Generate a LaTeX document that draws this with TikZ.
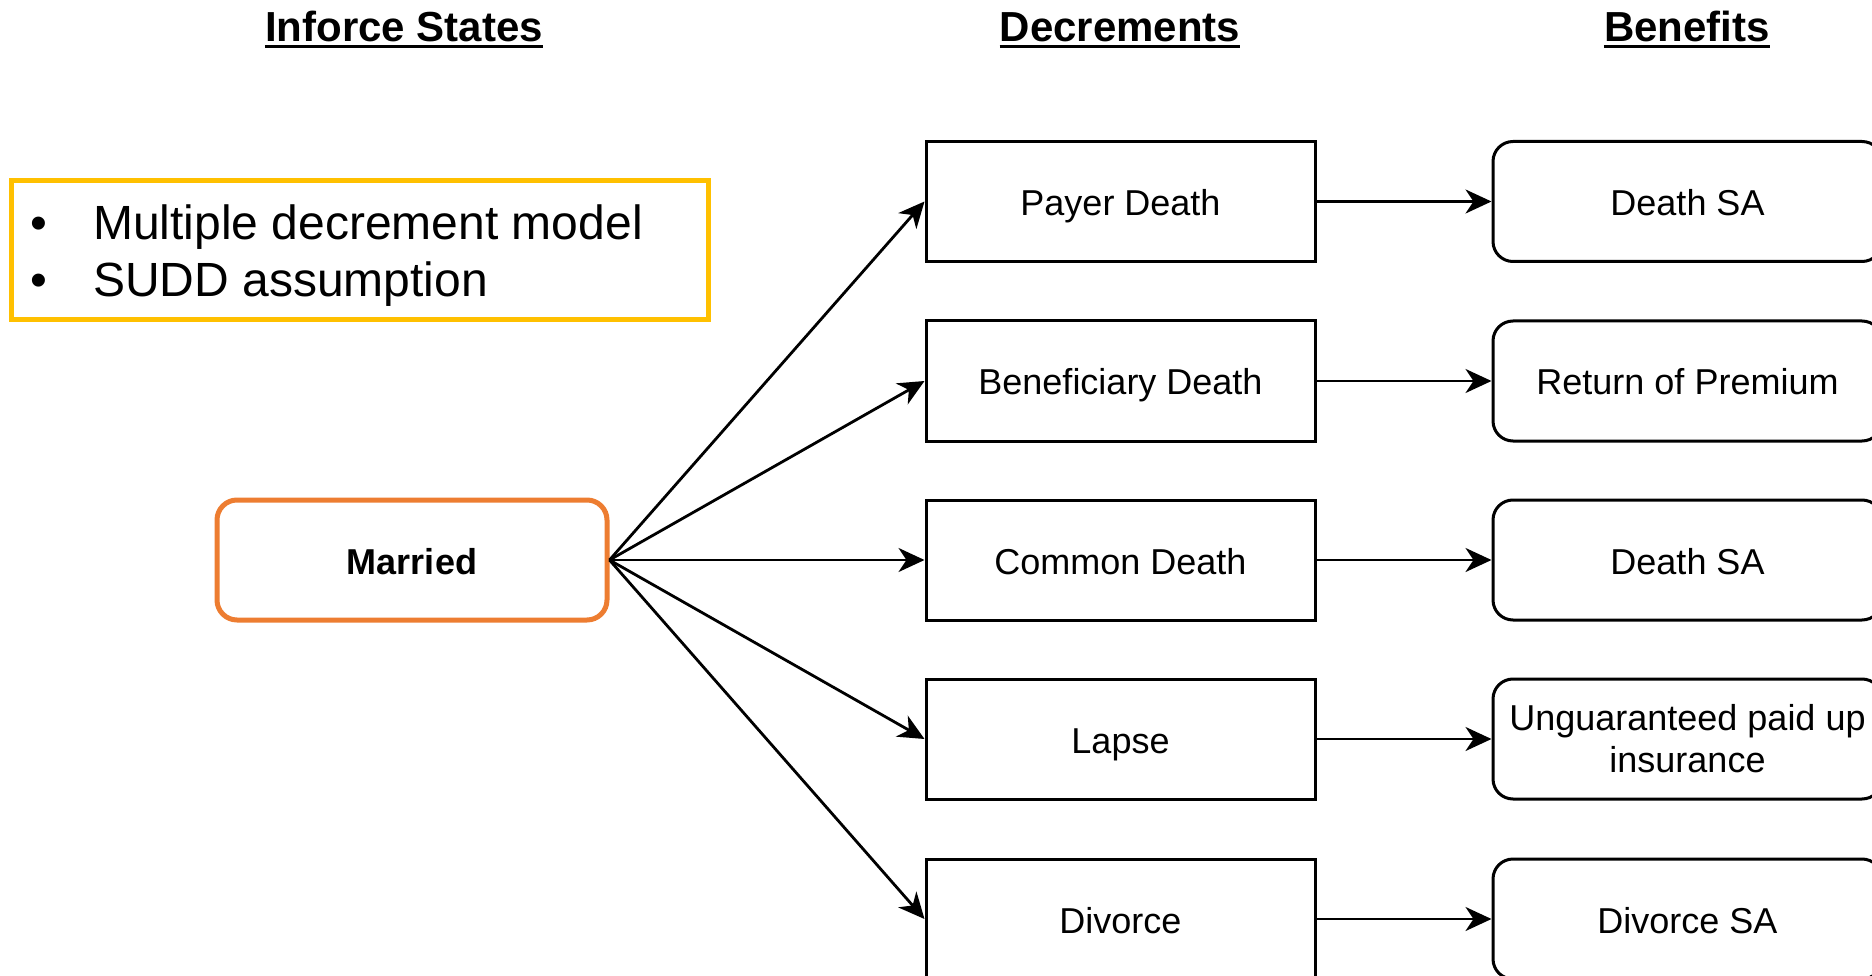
\documentclass[tikz,border=0pt]{standalone}
\usepackage{fontspec}
\setmainfont{Liberation Sans}
\usetikzlibrary{arrows.meta}
\definecolor{stateorange}{HTML}{ED7D31}
\definecolor{notegold}{HTML}{FFC000}
\begin{document}
\begin{tikzpicture}[x=1pt,y=-1pt,
  boxtext/.style={font=\fontsize{36}{42}\selectfont},
  decbox/.style={draw=black, line width=3pt, minimum width=389pt, minimum height=120pt,
    inner sep=0pt, boxtext, text height=28pt, text depth=0pt},
  benbox/.style={decbox, rounded corners=20pt},
  twoline/.style={text height=, text depth=, align=center},
  statebox/.style={draw=stateorange, line width=5pt, rounded corners=20pt,
    minimum width=390pt, minimum height=120pt, inner sep=0pt,
    text height=28pt, text depth=0pt,
    font=\fontsize{36}{42}\selectfont\bfseries},
  heading/.style={font=\fontsize{42}{48}\selectfont\bfseries, inner sep=0pt, anchor=base},
  uline/.style={line width=3pt},
  flow/.style={line width=2.8pt, -{Stealth[length=26pt, width=24pt, inset=8pt]}},
  notetext/.style={font=\fontsize{48}{57}\selectfont, inner sep=0pt, anchor=base west}
]
\useasboundingbox (0,0) rectangle (1872,976);

% column headings
\node[heading] (hstates) at (404,42) {Inforce States};
\node[heading] (hdec)    at (1120,42) {Decrements};
\node[heading] (hben)    at (1687,42) {Benefits};
\foreach \h in {hstates,hdec,hben}
  \draw[uline] ([yshift=-5pt]\h.base west) -- ([yshift=-5pt]\h.base east);

% note box
\node[draw=notegold, line width=5pt, minimum width=697pt, minimum height=139pt,
  inner sep=0pt] (note) at (359.5,250.5) {};
\node[notetext] (b1) at (30,240) {•};
\node[notetext] (n1) at (93,240) {Multiple decrement model};
\node[notetext] (b2) at (30,297) {•};
\node[notetext] (n2) at (93,297) {SUDD assumption};

% inforce state
\node[statebox] (married) at (412,560) {Married};

% decrements
\node[decbox] (d1) at (1120.5,201.5) {Payer Death};
\node[decbox] (d2) at (1120.5,381)   {Beneficiary Death};
\node[decbox] (d3) at (1120.5,560)   {Common Death};
\node[decbox] (d4) at (1120.5,739)   {Lapse};
\node[decbox] (d5) at (1120.5,919)   {Divorce};

% benefits
\node[benbox] (e1) at (1687.5,201.5) {Death SA};
\node[benbox] (e2) at (1687.5,381)   {Return of Premium};
\node[benbox] (e3) at (1687.5,560)   {Death SA};
\node[benbox, twoline] (e4) at (1687.5,739) {Unguaranteed paid up\\insurance};
\node[benbox] (e5) at (1687.5,919)   {Divorce SA};

% transitions
\foreach \i in {1,...,5} {
  \draw[flow] (married.east) -- (d\i.west);
  \draw[flow] (d\i.east) -- (e\i.west);
}
\end{tikzpicture}
\end{document}
